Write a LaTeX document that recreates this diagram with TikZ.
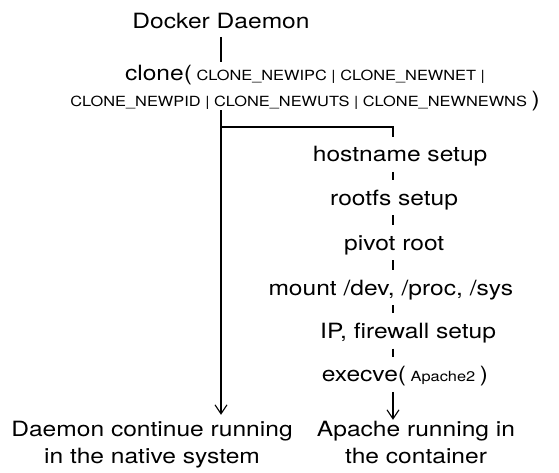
\documentclass[tikz,border=0pt]{standalone}
\usepackage{fontspec}
\setmainfont{TeX Gyre Heros}[FakeStretch=1.17]
\usetikzlibrary{arrows.meta}
\newcommand\smtxt[1]{{\fontsize{14}{16}\selectfont #1}}
\begin{document}
\begin{tikzpicture}[x=1pt,y=-1pt,
  lbl/.style={inner sep=0pt, font=\fontsize{21}{26.6}\selectfont},
  step2/.style={lbl, anchor=base west, text height=25pt, text depth=10pt},
  conn/.style={line width=1.1pt, black},
  arr/.style={conn, -{Straight Barb[length=9pt,width=12pt,line width=1.1pt]}}]
\useasboundingbox (0,0) rectangle (559,472);
\fill[white] (0,0) rectangle (559,472);
\coordinate (col) at (393,0);
\coordinate (lcol) at (221,0);
\node[lbl, anchor=base, text depth=8.4pt] (dd) at (221,28.3) {Docker Daemon};
\node[lbl, anchor=base, align=center, text depth=3.4pt] (cl) at (305,106.7)
  {clone(\smtxt{ CLONE\_NEWIPC | CLONE\_NEWNET |}\\
   \smtxt{CLONE\_NEWPID | CLONE\_NEWUTS | CLONE\_NEWNEWNS })};
\coordinate (cltop) at (221,61.7);
\node[step2] (hs) at (312.7,161.7) {hostname setup};
\node[step2] (rs) at (330,205) {rootfs setup};
\node[step2] (pr) at (344,250) {pivot root};
\node[step2] (mt) at (268.3,295) {mount /dev, /proc, /sys};
\node[step2] (ip) at (320,338.3) {IP, firewall setup};
\node[step2] (ex) at (321.7,381.7) {execve(\smtxt{ Apache2 })};
\node[lbl, anchor=base, align=center, text height=48.3pt] (dn) at (152,463.3) {Daemon continue running\\in the native system};
\node[lbl, anchor=base, align=center, text height=43.3pt] (ap) at (416,463.3) {Apache running in\\the container};
\coordinate (fork) at (221,127);
\draw[conn] (dd.south) -- (cltop);
\draw[arr] (cl.south -| lcol) -- (dn.north -| lcol);
\draw[conn] (fork) -| (hs.north -| col);
\draw[conn] (hs.south -| col) -- (rs.north -| col);
\draw[conn] (rs.south -| col) -- (pr.north -| col);
\draw[conn] (pr.south -| col) -- (mt.north -| col);
\draw[conn] (mt.south -| col) -- (ip.north -| col);
\draw[conn] (ip.south -| col) -- (ex.north -| col);
\draw[arr] (ex.south -| col) -- (ap.north -| col);
\end{tikzpicture}
\end{document}
